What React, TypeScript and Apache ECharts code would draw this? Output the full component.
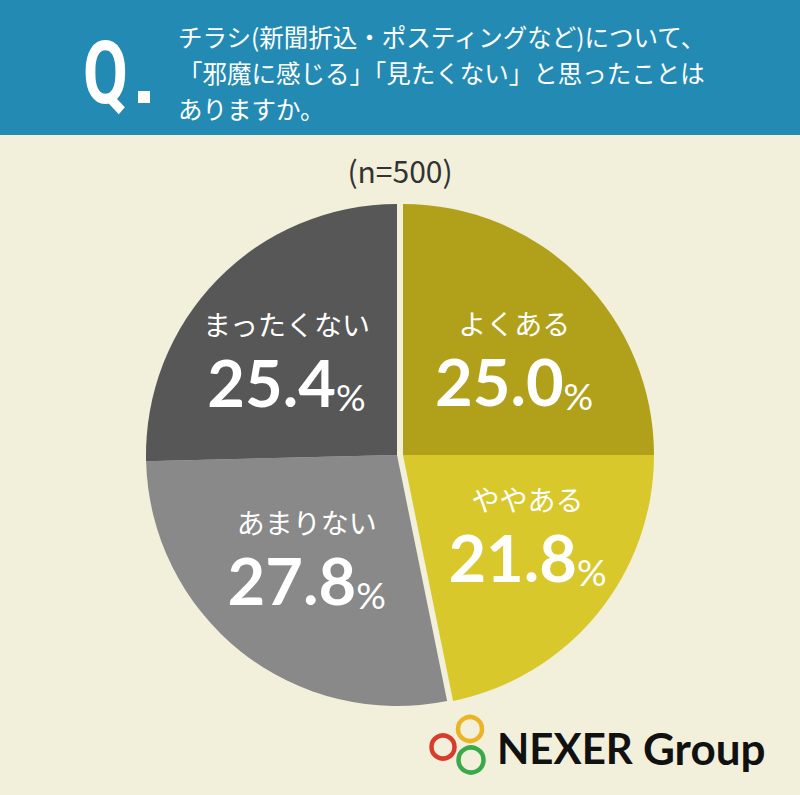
import React, { useEffect, useRef } from "react";
import * as echarts from "echarts";

const categories = ["よくある", "ややある", "あまりない", "まったくない"];
const values = [25.0, 21.8, 27.8, 25.4];
const sliceColors = ["#B1A01A", "#D8C82C", "#898989", "#575757"];
const groups = ["yes", "yes", "no", "no"];
const questionLines = [
  "チラシ(新聞折込・ポスティングなど)について、",
  "「邪魔に感じる」「見たくない」と思ったことは",
  "ありますか。",
];
const sampleText = "(n=500)";
// small label nudges (layout only)
const labelNudge: [number, number][] = [
  [6, 9],
  [9, -20],
  [2, -20],
  [-4, 9],
];

const BG = "#F2F0DB";
const HEADER = "#238AB3";
const JP = '"Noto Sans CJK JP", "Noto Sans", sans-serif';
const NUM = 'Lato, "Noto Sans", sans-serif';

export default function App() {
  const ref = useRef<HTMLDivElement>(null);
  useEffect(() => {
    document.body.style.margin = "0";
    const chart = echarts.init(ref.current!, null, { renderer: "svg" });

    const groupData = (g: string) =>
      categories.map((name, i) => ({
        name,
        value: values[i],
        itemStyle: { color: groups[i] === g ? sliceColors[i] : "rgba(0,0,0,0)" },
      }));

    const pieCommon = {
      type: "pie",
      radius: 251,
      startAngle: 90,
      clockwise: true,
      silent: true,
      label: { show: false },
      labelLine: { show: false },
      emphasis: { disabled: true },
    };

    chart.setOption({
      animation: false,
      backgroundColor: BG,
      graphic: [
        { type: "rect", shape: { x: 0, y: 0, width: 800, height: 135 }, style: { fill: HEADER } },
        {
          type: "text",
          x: 83,
          y: 73,
          scaleX: 0.74,
          style: {
            text: "Q",
            fill: "#fff",
            font: 'bold 88px Roboto, "Noto Sans", sans-serif',
            verticalAlign: "middle",
          },
        },
        { type: "rect", shape: { x: 138, y: 91, width: 12, height: 12 }, style: { fill: "#fff" } },
        ...questionLines.map((t, i) => ({
          type: "text",
          x: 178,
          y: 36 + i * 36,
          style: { text: t, fill: "#fff", font: `24.5px ${JP}`, verticalAlign: "middle" },
        })),
        {
          type: "text",
          x: 400,
          y: 170,
          style: {
            text: sampleText,
            fill: "#333",
            font: `30px ${JP}`,
            align: "center",
            verticalAlign: "middle",
          },
        },
        { type: "circle", shape: { cx: 470, cy: 729, r: 12 }, style: { fill: "none", stroke: "#EBB425", lineWidth: 4.5 } },
        { type: "circle", shape: { cx: 443, cy: 747, r: 11.5 }, style: { fill: "none", stroke: "#D93B2C", lineWidth: 4.5 } },
        { type: "circle", shape: { cx: 471, cy: 760, r: 12.5 }, style: { fill: "none", stroke: "#3BA84B", lineWidth: 4.5 } },
        {
          type: "text",
          x: 497,
          y: 748,
          style: { text: "NEXER", fill: "#111", font: `bold 42px ${NUM}`, verticalAlign: "middle" },
        },
        {
          type: "text",
          x: 643,
          y: 748,
          style: { text: "Group", fill: "#111", font: `bold 44px ${NUM}`, verticalAlign: "middle" },
        },
      ],
      series: [
        { ...pieCommon, center: [403, 455], data: groupData("yes") },
        { ...pieCommon, center: [397, 455], data: groupData("no") },
        {
          type: "pie",
          radius: 300,
          center: [400, 455],
          startAngle: 90,
          clockwise: true,
          silent: true,
          emphasis: { disabled: true },
          labelLine: { show: false },
          itemStyle: { color: "rgba(0,0,0,0)" },
          data: categories.map((name, i) => ({
            name,
            value: values[i],
            label: { offset: labelNudge[i] },
          })),
          label: {
            show: true,
            position: "inside",
            color: "#fff",
            formatter: (p: any) => `{n|${p.name}}\n{v|${p.value.toFixed(1)}}{p|%}`,
            rich: {
              n: { fontSize: 28, fontFamily: JP, color: "#fff", lineHeight: 50, align: "center" },
              v: { fontSize: 65, fontFamily: NUM, fontWeight: "bold", color: "#fff", lineHeight: 66 },
              p: { fontSize: 37, fontFamily: NUM, color: "#fff", lineHeight: 66, verticalAlign: "bottom" },
            },
          },
        },
      ],
    });
    return () => chart.dispose();
  }, []);
  return <div ref={ref} style={{ width: 800, height: 795 }} />;
}
